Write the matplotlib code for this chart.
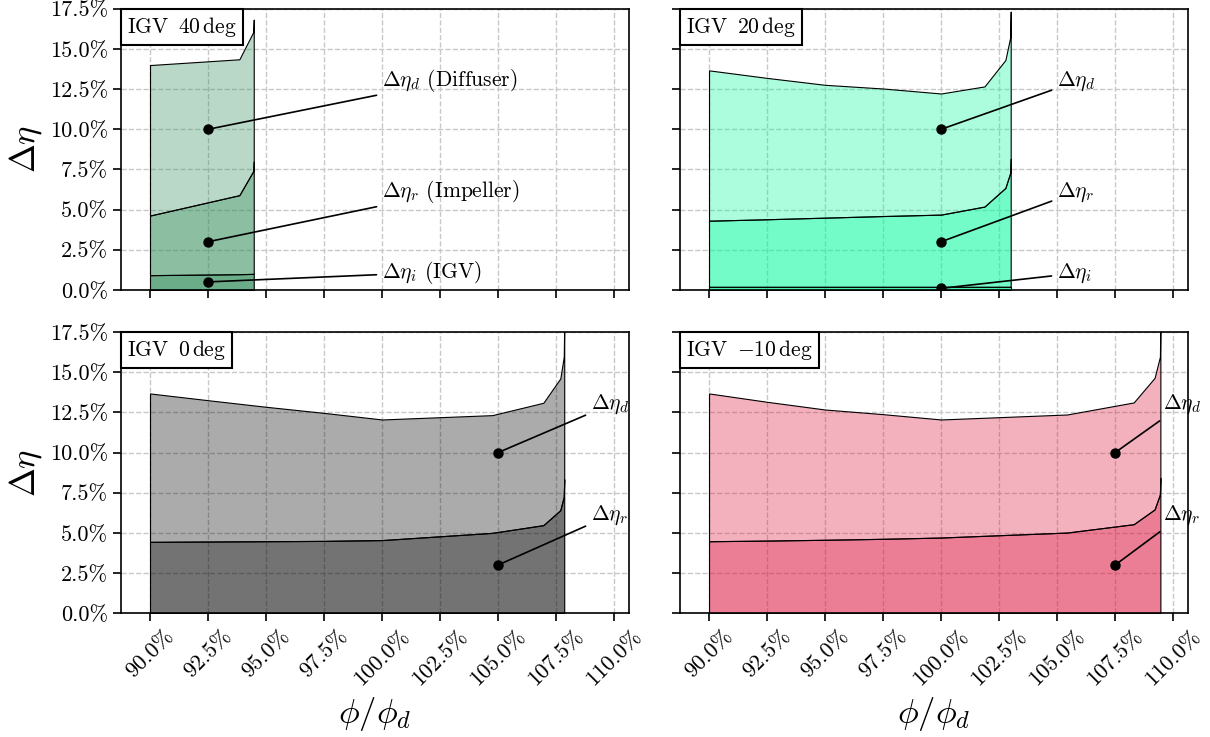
import numpy as np
import matplotlib
matplotlib.use('Agg')
import matplotlib.pyplot as plt
from matplotlib.colors import to_rgba
from matplotlib.ticker import PercentFormatter, MultipleLocator
from matplotlib.offsetbox import AnchoredText

# LaTeX-like look without usetex
plt.rcParams['font.family'] = 'serif'
plt.rcParams['font.serif'] = ['cmr10']
plt.rcParams['mathtext.fontset'] = 'cm'
plt.rcParams['axes.formatter.use_mathtext'] = True
plt.rcParams['axes.unicode_minus'] = False

###########################
#### data (percent)
###########################

# IGV 40 deg : flow ratio, loss split (IGV, impeller, diffuser)
phi_40 = [90.0, 93.85, 94.45, 94.47]
igv_40 = [0.92, 0.98, 1.00, 1.00]
imp_40 = [3.71, 4.92, 6.40, 7.00]
dif_40 = [9.37, 8.46, 8.66, 8.83]

# IGV 20 deg
phi_20 = [90.0, 92.5, 95.0, 97.5, 100.0, 101.87, 102.77, 102.98, 103.0]
igv_20 = [0.2, 0.2, 0.2, 0.2, 0.2, 0.2, 0.2, 0.2, 0.2]
imp_20 = [4.11, 4.20, 4.30, 4.40, 4.49, 4.99, 6.15, 7.09, 7.97]
dif_20 = [9.36, 8.80, 8.27, 7.94, 7.54, 7.48, 7.96, 8.44, 9.16]

# IGV 0 deg (no IGV loss)
phi_0 = [90.0, 92.5, 95.0, 97.5, 100.0, 104.75, 106.95, 107.68, 107.83, 107.85]
imp_0 = [4.44, 4.46, 4.48, 4.50, 4.55, 5.00, 5.48, 6.41, 7.24, 8.34]
dif_0 = [9.24, 8.80, 8.37, 7.97, 7.51, 7.33, 7.62, 8.20, 8.72, 9.66]

# IGV -10 deg (no IGV loss)
phi_m10 = [90.0, 92.5, 95.0, 97.5, 100.0, 105.43, 108.3, 109.2, 109.43, 109.45]
imp_m10 = [4.48, 4.52, 4.57, 4.63, 4.71, 5.02, 5.54, 6.46, 7.39, 8.42]
dif_m10 = [9.20, 8.64, 8.11, 7.76, 7.35, 7.35, 7.58, 8.19, 8.57, 9.58]

titles = [r'IGV $\,40\,\mathrm{deg}$', r'IGV $\,20\,\mathrm{deg}$',
          r'IGV $\,0\,\mathrm{deg}$', r'IGV $\,{-10}\,\mathrm{deg}$']
base_colors = ['seagreen', 'mediumspringgreen', 'black', 'crimson']

# annotation points (x of dots, text x) per panel
dot_x = [92.5, 100.0, 105.0, 107.5]
text_x = [100.0, 105.0, 109.0, 109.57]
dot_y = {'d': 10.0, 'r': 3.0}
dot_y_igv = [0.5, 0.1]
text_y = {'d': 12.7, 'r': 5.8, 'i': 0.75}

panels = [
    (phi_40, [igv_40, imp_40, dif_40]),
    (phi_20, [igv_20, imp_20, dif_20]),
    (phi_0, [imp_0, dif_0]),
    (phi_m10, [imp_m10, dif_m10]),
]

fig, axes = plt.subplots(2, 2, figsize=(12.1, 7.37), dpi=100, sharex=True, sharey=True)
fig.subplots_adjust(left=0.1, right=0.982, top=0.988, bottom=0.168, wspace=0.1, hspace=0.15)

for k, ax in enumerate(axes.flat):
    x, layers = panels[k]
    base = base_colors[k]
    if len(layers) == 3:
        alphas = [0.7, 0.55, 0.33]
    else:
        alphas = [0.55, 0.33]
    cols = [to_rgba(base, a) for a in alphas]
    ax.stackplot(x, *layers, colors=cols, edgecolor='k', linewidth=0.8)

    # annotations
    x0, tx = dot_x[k], text_x[k]
    if k == 0:
        lab_d = r'$\Delta\eta_d$ (Diffuser)'
        lab_r = r'$\Delta\eta_r$ (Impeller)'
        lab_i = r'$\Delta\eta_i$ (IGV)'
    else:
        lab_d = r'$\Delta\eta_d$'
        lab_r = r'$\Delta\eta_r$'
        lab_i = r'$\Delta\eta_i$'
    ann = [(lab_d, dot_y['d'], text_y['d']), (lab_r, dot_y['r'], text_y['r'])]
    if len(layers) == 3:
        ann.append((lab_i, dot_y_igv[k], text_y['i']))
    for lab, yd, yt in ann:
        ax.plot(x0, yd, 'ko', ms=6.5, zorder=5)
        ax.annotate(lab, xy=(x0, yd), xytext=(tx, yt), fontsize=15.5,
                    arrowprops=dict(arrowstyle='-', color='k', lw=1.2, shrinkB=0),
                    annotation_clip=False)

    at = AnchoredText(titles[k], loc='upper left', borderpad=0, pad=0.28,
                      prop=dict(size=15.5), frameon=True)
    at.patch.set_boxstyle('square,pad=0')
    at.patch.set_linewidth(1.5)
    ax.add_artist(at)

    ax.set_xlim(88.75, 110.65)
    ax.set_ylim(0, 17.5)
    ax.xaxis.set_major_locator(MultipleLocator(2.5))
    ax.yaxis.set_major_locator(MultipleLocator(2.5))
    ax.xaxis.set_major_formatter(PercentFormatter(100, decimals=1))
    ax.yaxis.set_major_formatter(PercentFormatter(100, decimals=1))
    ax.set_axisbelow(True)
    ax.grid(True, ls='--', color='#c8c8c8', lw=1.0)
    ax.tick_params(direction='out', length=6, width=1.2, labelsize=16)
    for s in ax.spines.values():
        s.set_linewidth(1.2)

for ax in axes[1]:
    ax.set_xlabel(r'$\phi/\phi_d$', fontsize=25)
    ax.tick_params(axis='x', labelrotation=45)
for ax in axes[:, 0]:
    ax.set_ylabel(r'$\Delta\eta$', fontsize=25)

plt.savefig('out.png', dpi=100)
